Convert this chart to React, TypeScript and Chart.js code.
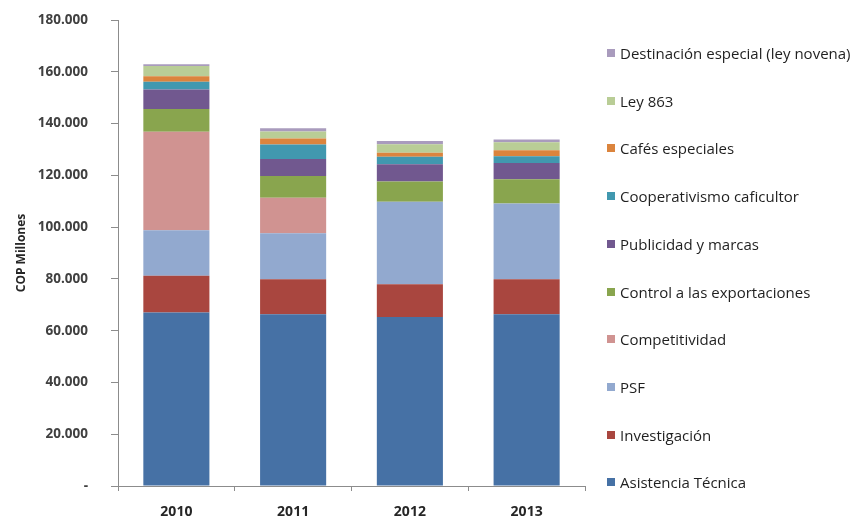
import React, { useEffect, useRef } from 'react';
import { Chart, registerables } from 'chart.js';

Chart.register(...registerables);

// ---- Data (COP millones) ----
const categories = ['2010', '2011', '2012', '2013'];

const asistenciaTecnica = [67000, 66300, 65300, 66300];
const investigacion = [14200, 13600, 12600, 13600];
const psf = [17600, 17700, 31900, 29200];
const competitividad = [38000, 13700, 0, 0];
const controlExportaciones = [8800, 8400, 7800, 9400];
const publicidadMarcas = [7600, 6600, 6700, 6300];
const cooperativismo = [2900, 5600, 2900, 2600];
const cafesEspeciales = [2200, 2300, 1500, 2300];
const ley863 = [3900, 2700, 3300, 3100];
const destinacionEspecial = [700, 1300, 1300, 1000];

const seriesLabels = [
  'Asistencia Técnica',
  'Investigación',
  'PSF',
  'Competitividad',
  'Control a las exportaciones',
  'Publicidad y marcas',
  'Cooperativismo caficultor',
  'Cafés especiales',
  'Ley 863',
  'Destinación especial (ley novena)',
];
const seriesData = [
  asistenciaTecnica,
  investigacion,
  psf,
  competitividad,
  controlExportaciones,
  publicidadMarcas,
  cooperativismo,
  cafesEspeciales,
  ley863,
  destinacionEspecial,
];
const seriesColors = [
  '#4671a5',
  '#a9463f',
  '#92a9cf',
  '#d09391',
  '#89a54e',
  '#71588f',
  '#4198af',
  '#db843d',
  '#b9cd96',
  '#a99bbd',
];

const yTicks = [0, 20000, 40000, 60000, 80000, 100000, 120000, 140000, 160000, 180000];

const FONT = '"Open Sans", "Noto Sans", sans-serif';

export default function App() {
  const ref = useRef<HTMLCanvasElement>(null);

  useEffect(() => {
    if (!ref.current) return;
    const chart = new Chart(ref.current, {
      type: 'bar',
      data: {
        labels: categories,
        datasets: seriesLabels.map((label, i) => ({
          label,
          data: seriesData[i],
          backgroundColor: seriesColors[i],
          borderWidth: 0,
          categoryPercentage: 1,
          barPercentage: 0.566,
        })),
      },
      options: {
        animation: false,
        responsive: false,
        maintainAspectRatio: false,
        layout: { padding: { top: 20, right: 274, bottom: 0, left: 0 } },
        plugins: {
          legend: { display: false },
          tooltip: { enabled: false },
        },
        scales: {
          x: {
            stacked: true,
            grid: {
              display: true,
              drawOnChartArea: false,
              tickLength: 5,
              color: '#8c8c8c',
              offset: true,
            },
            border: { color: '#8c8c8c' },
            ticks: {
              padding: 13,
              color: '#262626',
              font: { family: FONT, size: 14, weight: 'bold' },
            },
            afterFit: (s: any) => {
              s.height = 30;
            },
          },
          y: {
            stacked: true,
            min: 0,
            max: 180000,
            afterBuildTicks: (s: any) => {
              s.ticks = yTicks.map((v) => ({ value: v }));
            },
            grid: {
              display: true,
              drawOnChartArea: false,
              tickLength: 7,
              color: '#8c8c8c',
            },
            border: { color: '#8c8c8c' },
            ticks: {
              padding: 23,
              color: '#404040',
              font: { family: FONT, size: 13.5, weight: 'bold' },
              callback: (v: any) =>
                Number(v) === 0 ? '-' : `${Math.round(Number(v) / 1000)}.000`,
            },
            title: {
              display: true,
              text: 'COP Millones',
              color: '#262626',
              font: { family: FONT, size: 12, weight: 'bold' },
              padding: { top: 14, bottom: 0 },
            },
            afterFit: (s: any) => {
              s.width = 118;
              s.paddingTop = 8;
              s.paddingBottom = 8;
            },
          },
        },
      },
    });
    return () => chart.destroy();
  }, []);

  const legendOrder = seriesLabels.map((l, i) => i).reverse();

  return (
    <div
      style={{
        position: 'fixed',
        left: 0,
        top: 0,
        width: 859,
        height: 516,
        background: '#ffffff',
        overflow: 'hidden',
      }}
    >
      <canvas ref={ref} width={859} height={516} style={{ position: 'absolute', left: 0, top: 0 }} />
      {legendOrder.map((idx, k) => (
        <div
          key={idx}
          style={{
            position: 'absolute',
            left: 607,
            top: 53 + k * 47.7 - 10,
            height: 20,
            display: 'flex',
            alignItems: 'center',
            whiteSpace: 'nowrap',
            fontFamily: FONT,
            fontSize: 15,
            color: '#1f1f1f',
          }}
        >
          <span
            style={{
              display: 'inline-block',
              width: 8,
              height: 8,
              background: seriesColors[idx],
              marginRight: 5,
            }}
          />
          <span>{seriesLabels[idx]}</span>
        </div>
      ))}
    </div>
  );
}
